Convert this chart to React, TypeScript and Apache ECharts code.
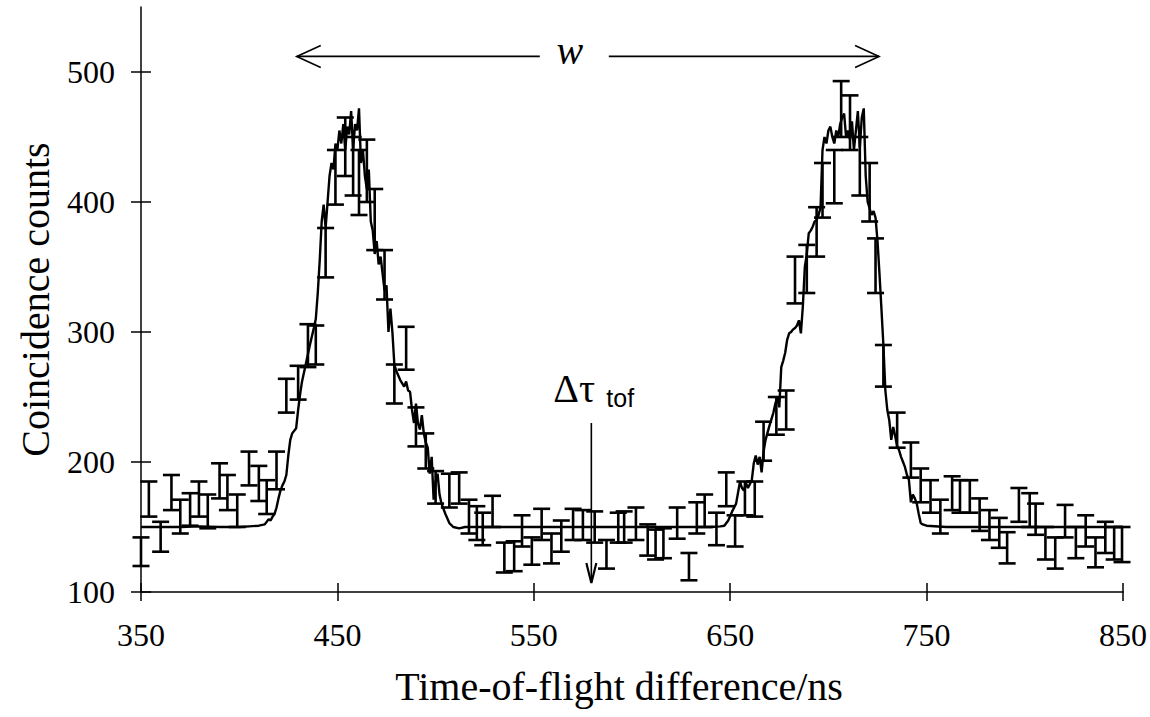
import React, { useEffect, useRef } from 'react';
import * as echarts from 'echarts';

const FONT = '"Liberation Serif", "Times New Roman", serif';

const xTicks = [350, 450, 550, 650, 750, 850];
const yTicks = [100, 200, 300, 400, 500];

// Error-bar measurements (time in ns, lower / upper count limits)
const errX = [350, 354, 360, 365.5, 370, 375, 379.5, 384, 390, 394, 399, 405, 410, 414, 419, 424, 430, 435, 439, 444, 449, 454, 458, 461, 465, 469, 474, 479, 485, 490, 495, 500, 507, 512, 517, 521, 524, 529, 535, 540, 544, 549, 554, 559, 564, 570, 575, 581, 587, 593, 596, 602, 608, 612, 616, 623, 629, 633, 637, 643, 648, 652.5, 657.5, 662.5, 667, 673.5, 678.5, 683, 689, 694, 697, 703, 706.5, 711, 716, 721, 724, 728, 735, 742, 747, 752, 757, 763, 767, 772, 777, 782, 787, 791, 797, 802.5, 805.5, 810.5, 815.5, 820.5, 826, 831, 836, 841, 845.5, 849.5];
const errLow = [120, 158, 131, 163, 145, 151, 158, 149, 172, 163, 150, 182, 170, 160, 179, 238, 248, 273, 275, 342, 398, 420, 405, 390, 400, 363, 325, 245, 271, 212, 195, 168, 165, 168, 145, 140, 136, 150, 115, 116, 135, 121, 140, 122, 131, 140, 140, 138, 118, 138, 138, 140, 128, 125, 126, 141, 109, 145, 150, 136, 166, 135, 159, 158, 201, 221, 225, 322, 330, 358, 388, 399, 450, 440, 405, 385, 330, 258, 211, 188, 169, 161, 145, 163, 161, 161, 147, 140, 134, 122, 154, 150, 144, 125, 118, 142, 126, 135, 119, 130, 125, 123];
const errHigh = [142, 185, 154, 190, 171, 176, 185, 175, 199, 190, 175, 208, 197, 186, 208, 264, 274, 306, 305, 380, 440, 465, 450, 440, 448, 410, 363, 275, 304, 242, 222, 193, 191, 192, 171, 166, 161, 174, 138, 139, 159, 142, 164, 145, 155, 164, 163, 162, 140, 161, 162, 165, 152, 148, 149, 165, 130, 169, 175, 161, 192, 159, 185, 185, 231, 250, 255, 358, 367, 396, 430, 440, 493, 482, 450, 430, 372, 290, 238, 215, 195, 186, 171, 189, 186, 186, 172, 163, 157, 146, 180, 176, 168, 150, 142, 167, 150, 159, 142, 154, 150, 150];

// Continuous spectrum curve
const curveX = [350, 360, 370, 380, 390, 400, 405, 410, 413, 415, 416, 417, 418, 419, 420, 421, 422, 423, 424, 425, 426, 427, 429, 430, 431, 432, 434, 436, 438, 439, 440, 441, 442, 443, 444, 445, 446, 447, 448, 449, 450, 451, 452, 453, 454, 455, 456, 457, 458, 459, 460, 461, 462, 463, 464, 465, 466, 467, 468, 469, 470, 471, 472, 473, 474, 475, 476, 477, 478, 479, 480, 482, 484, 485, 486, 487, 488, 489, 490, 491, 492, 493, 494, 495, 496, 497, 498, 499, 500, 501, 502, 503, 505, 507, 509, 512, 515, 550, 600, 620, 640, 645, 647, 649, 651, 653, 655, 656, 657, 658, 659, 660, 661, 662, 663, 664, 665, 666, 667, 668, 670, 672, 673, 674, 675, 676, 677, 678, 679, 680, 681, 682, 683, 684, 685, 686, 687, 688, 689, 690, 691, 692, 693, 694, 695, 696, 697, 698, 699, 700, 701, 702, 703, 704, 705, 706, 707, 708, 709, 710, 711, 712, 713, 714, 715, 716, 717, 718, 719, 720, 721, 722, 723, 724, 725, 726, 727, 728, 729, 730, 731, 732, 733, 734, 735, 736, 737, 738, 739, 740, 741, 742, 743, 744, 745, 746, 747, 748, 750, 760, 800, 850];
const curveY = [150, 150, 150, 150.5, 150, 150, 150.5, 151, 152, 156, 155, 158, 160, 165, 172, 178, 182, 185, 190, 205, 217, 222, 226, 240, 252, 262, 276, 290, 303, 310, 330, 355, 385, 398, 380, 400, 420, 430, 425, 445, 440, 455, 445, 460, 440, 458, 452, 470, 440, 460, 455, 472, 430, 440, 420, 410, 425, 385, 378, 360, 370, 352, 358, 345, 332, 336, 300, 318, 300, 275, 270, 263, 258, 262, 255, 254, 240, 230, 245, 230, 225, 236, 222, 215, 211, 191, 204, 171, 185, 191, 175, 168, 160, 153, 150, 149, 150, 150, 150, 150, 150, 150.5, 151, 155, 162, 168, 185, 180, 178, 184, 180, 183, 186, 199, 205, 198, 204, 192, 208, 217, 228, 238, 245, 250, 242, 273, 278, 284, 294, 299, 300, 302, 303, 305, 309, 299, 320, 350, 360, 376, 378, 381, 385, 386, 390, 396, 440, 450, 445, 455, 458, 450, 445, 455, 450, 460, 465, 468, 450, 455, 448, 462, 440, 455, 470, 442, 465, 472, 420, 400, 395, 390, 393, 388, 370, 345, 318, 290, 255, 240, 232, 217, 227, 220, 212, 209, 204, 200, 196, 190, 186, 169, 175, 172, 168, 160, 153, 152, 151, 150, 150, 150];

// Annotations (data coordinates)
const wArrowFrom = 429.3;
const wArrowTo = 725.8;
const wArrowY = 512;
const wLabelX = 577.5;
const tofArrowX = 579.3;
const tofArrowTop = 230;
const tofArrowBottom = 107;

export default function App() {
  const ref = useRef<HTMLDivElement>(null);
  useEffect(() => {
    if (!ref.current) return;
    const chart = echarts.init(ref.current, null, { renderer: 'svg' });
    const axisColor = '#000';
    const errData = errX.map((x, i) => [x, errLow[i], errHigh[i]]);
    const curveData = curveX.map((x, i) => [x, curveY[i]]);
    const tickStyle = { color: axisColor, width: 1.5 };
    chart.setOption({
      animation: false,
      backgroundColor: '#fff',
      textStyle: { fontFamily: FONT, color: '#000' },
      grid: { left: 141, right: 19, top: 7, bottom: 125, containLabel: false },
      xAxis: [
        {
          type: 'value', min: 350, max: 850, interval: 50,
          name: 'Time-of-flight difference/ns', nameLocation: 'middle', nameGap: 74,
          nameTextStyle: { fontFamily: FONT, fontSize: 40, color: '#000', padding: [0, 26, 0, 0] },
          axisLine: { show: true, onZero: false, lineStyle: { color: axisColor, width: 1.5 } },
          axisTick: { show: true, length: 9, customValues: xTicks, lineStyle: tickStyle },
          axisLabel: { customValues: xTicks, fontFamily: FONT, fontSize: 32, color: '#000', margin: 27 },
          splitLine: { show: false },
        },
        {
          type: 'value', min: 350, max: 850, interval: 50, position: 'bottom', offset: 0,
          axisLine: { show: false },
          axisTick: { show: true, inside: true, length: 9, customValues: xTicks, lineStyle: tickStyle },
          axisLabel: { show: false },
          splitLine: { show: false },
        },
      ],
      yAxis: [
        {
          type: 'value', min: 100, max: 550, interval: 50,
          name: 'Coincidence counts', nameLocation: 'middle', nameGap: 86,
          nameTextStyle: { fontFamily: FONT, fontSize: 40, color: '#000' },
          axisLine: { show: true, onZero: false, lineStyle: { color: axisColor, width: 1.5 } },
          axisTick: { show: true, length: 10, customValues: yTicks, lineStyle: tickStyle },
          axisLabel: { customValues: yTicks, fontFamily: FONT, fontSize: 32, color: '#000', margin: 26 },
          splitLine: { show: false },
        },
        {
          type: 'value', min: 100, max: 550, interval: 50, position: 'left', offset: 0,
          axisLine: { show: false },
          axisTick: { show: true, inside: true, length: 10, customValues: yTicks, lineStyle: tickStyle },
          axisLabel: { show: false },
          splitLine: { show: false },
        },
      ],
      series: [
        {
          type: 'line',
          data: curveData,
          showSymbol: false,
          symbol: 'none',
          lineStyle: { color: '#000', width: 2.4 },
          z: 3,
        },
        {
          type: 'custom',
          data: errData,
          clip: false,
          z: 4,
          renderItem: (params: any, api: any) => {
            const x = api.value(0);
            const pLo = api.coord([x, api.value(1)]);
            const pHi = api.coord([x, api.value(2)]);
            const hw = 8.5;
            const style = { stroke: '#000', lineWidth: 2.6, fill: null };
            return {
              type: 'group',
              children: [
                { type: 'line', shape: { x1: pLo[0], y1: pLo[1], x2: pHi[0], y2: pHi[1] }, style },
                { type: 'line', shape: { x1: pLo[0] - hw, y1: pLo[1], x2: pLo[0] + hw, y2: pLo[1] }, style },
                { type: 'line', shape: { x1: pHi[0] - hw, y1: pHi[1], x2: pHi[0] + hw, y2: pHi[1] }, style },
              ],
            };
          },
        },
      ],
    });

    const p = (x: number, y: number) => chart.convertToPixel({ xAxisIndex: 0, yAxisIndex: 0 }, [x, y]) as number[];
    const wl = p(wArrowFrom, wArrowY);
    const wr = p(wArrowTo, wArrowY);
    const wt = p(wLabelX, wArrowY);
    const at = p(tofArrowX, tofArrowTop);
    const ab = p(tofArrowX, tofArrowBottom);
    const thin = { stroke: '#000', lineWidth: 1.6, fill: null };
    chart.setOption({
      graphic: [
        { type: 'line', shape: { x1: wl[0], y1: wl[1], x2: wt[0] - 48, y2: wl[1] }, style: thin },
        { type: 'line', shape: { x1: wt[0] + 21, y1: wr[1], x2: wr[0], y2: wr[1] }, style: thin },
        { type: 'polyline', shape: { points: [[wl[0] + 24, wl[1] - 11], [wl[0], wl[1]], [wl[0] + 24, wl[1] + 11]] }, style: thin },
        { type: 'polyline', shape: { points: [[wr[0] - 24, wr[1] - 11], [wr[0], wr[1]], [wr[0] - 24, wr[1] + 11]] }, style: thin },
        {
          type: 'text', x: wt[0] - 18, y: wt[1] - 6,
          style: { text: 'w', font: `italic 40px ${FONT}`, fill: '#000', textAlign: 'center', textVerticalAlign: 'middle' },
        },
        { type: 'line', shape: { x1: at[0], y1: at[1], x2: ab[0], y2: ab[1] }, style: thin },
        { type: 'polyline', shape: { points: [[ab[0] - 5, ab[1] - 20], [ab[0], ab[1]], [ab[0] + 5, ab[1] - 20]] }, style: { stroke: '#000', lineWidth: 2.2, fill: null } },
        {
          type: 'text', x: at[0] - 38, y: at[1] - 35,
          style: { text: 'Δτ', font: `40px ${FONT}`, fill: '#000', textAlign: 'left', textVerticalAlign: 'middle' },
        },
        {
          type: 'text', x: at[0] + 15, y: at[1] - 25,
          style: { text: 'tof', font: `25px "Liberation Sans", Arial, sans-serif`, fill: '#000', textAlign: 'left', textVerticalAlign: 'middle' },
        },
      ],
    });
    return () => chart.dispose();
  }, []);
  return <div ref={ref} style={{ position: 'fixed', left: 0, top: 0, width: 1150, height: 717, background: '#fff' }} />;
}
